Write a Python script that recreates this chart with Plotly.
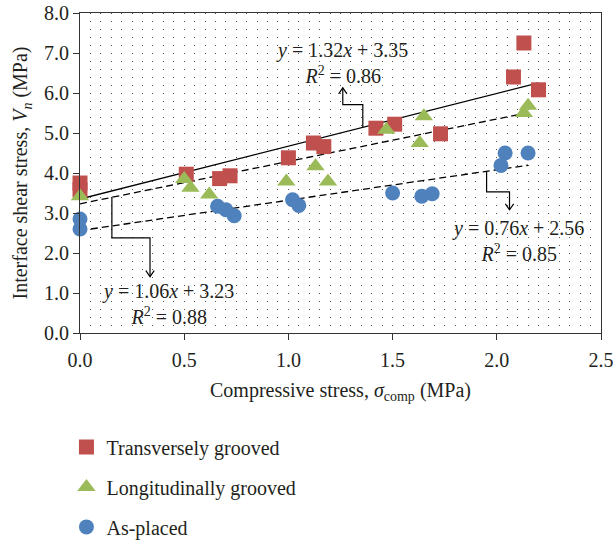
import plotly.graph_objects as go

# ---- data ----
trans_x = [0.0, 0.0, 0.51, 0.67, 0.72, 1.00, 1.12, 1.17, 1.42, 1.51, 1.73, 2.08, 2.13, 2.20]
trans_y = [3.75, 3.58, 3.97, 3.86, 3.93, 4.38, 4.75, 4.66, 5.12, 5.22, 4.98, 6.40, 7.25, 6.08]

long_x = [0.0, 0.50, 0.53, 0.62, 0.99, 1.13, 1.19, 1.47, 1.63, 1.65, 2.13, 2.15]
long_y = [3.42, 3.85, 3.63, 3.46, 3.79, 4.17, 3.79, 5.08, 4.75, 5.42, 5.50, 5.68]

asp_x = [0.0, 0.0, 0.66, 0.70, 0.74, 1.02, 1.05, 1.50, 1.64, 1.69, 2.02, 2.04, 2.15]
asp_y = [2.85, 2.60, 3.17, 3.08, 2.93, 3.33, 3.19, 3.50, 3.42, 3.48, 4.19, 4.50, 4.50]

fits = {  # name: (slope, intercept, r2, x_end)
    "trans": (1.32, 3.35, 0.86, 2.20),
    "long": (1.06, 3.23, 0.88, 2.15),
    "asp": (0.76, 2.56, 0.85, 2.15),
}

x_ticks = [0.0, 0.5, 1.0, 1.5, 2.0, 2.5]
y_ticks = [0, 1, 2, 3, 4, 5, 6, 7, 8]

RED = "#C0504D"
GREEN = "#9BBB59"
BLUE = "#4F81BD"
FONT = "Liberation Serif"
TXT = "#231F20"
FS = 20

fig = go.Figure()

# trend lines
for key, dash in [("trans", "solid"), ("long", "7px,4px"), ("asp", "7px,4px")]:
    m, b, r2, xe = fits[key]
    fig.add_trace(go.Scatter(x=[0, xe], y=[b, m * xe + b], mode="lines",
                             line=dict(color="black", width=1.3, dash=dash),
                             showlegend=False, hoverinfo="skip", cliponaxis=False))

fig.add_trace(go.Scatter(x=trans_x, y=trans_y, mode="markers", name="Transversely grooved",
                         marker=dict(symbol="square", size=15, color=RED),
                         cliponaxis=False, legendgroup="a"))
fig.add_trace(go.Scatter(x=long_x, y=long_y, mode="markers", name="Longitudinally grooved",
                         marker=dict(symbol="triangle-up", size=16, color=GREEN),
                         cliponaxis=False, legendgroup="b"))
fig.add_trace(go.Scatter(x=asp_x, y=asp_y, mode="markers", name="As-placed",
                         marker=dict(symbol="circle", size=15, color=BLUE),
                         cliponaxis=False, legendgroup="c"))

# elbow connectors + open arrowheads
def line_y(key, x):
    m, b, _, _ = fits[key]
    return m * x + b

connectors = [
    # (key, x_start, y_turn, x_turn, y_tip)
    ("trans", 1.357, 5.71, 1.261, 6.13),
    ("long", 0.153, 2.38, 0.336, 1.41),
    ("asp", 1.951, 3.53, 2.061, 3.08),
]
HW = 0.02   # arrow half width (x units)
HL = 0.15   # arrow length (y units)
for key, xs, yt, xt, ytip in connectors:
    ys = line_y(key, xs)
    fig.add_shape(type="path", xref="x", yref="y",
                  path=f"M{xs},{ys} L{xs},{yt} L{xt},{yt} L{xt},{ytip}",
                  line=dict(color="black", width=1.2))
    back = HL if ytip < yt else -HL
    fig.add_shape(type="path", xref="x", yref="y",
                  path=f"M{xt-HW},{ytip+back} L{xt},{ytip} L{xt+HW},{ytip+back}",
                  line=dict(color="black", width=1.2))

labels = [("trans", 1.256, 6.74), ("long", 0.422, 0.73), ("asp", 2.10, 2.29)]
for key, lx, ly in labels:
    m, b, r2, _ = fits[key]
    fig.add_annotation(x=lx, y=ly, xref="x", yref="y", showarrow=False,
                       text=f"<i>y</i> = {m:.2f}<i>x</i> + {b:.2f}<br><i>R</i><sup>2</sup> = {r2:.2f}",
                       font=dict(family=FONT, size=FS, color=TXT), align="center")

grid_common = dict(gridcolor="#555555", gridwidth=1, griddash="1px,7px")

fig.update_xaxes(range=[0, 2.5], tickvals=x_ticks, ticktext=[f"{v:.1f}" for v in x_ticks],
                 showline=True, linecolor="#333333", linewidth=1.2, mirror=True,
                 ticks="outside", ticklen=6, tickcolor="#333333", ticklabelstandoff=3,
                 ticklabeloverflow="allow",
                 showgrid=True, **grid_common,
                 minor=dict(dtick=0.05, showgrid=True, **grid_common),
                 zeroline=False, automargin=False,
                 tickfont=dict(family=FONT, size=FS, color=TXT),
                 title=dict(text="Compressive stress, <i>σ</i><sub>comp</sub> (MPa)",
                            font=dict(family=FONT, size=FS, color=TXT), standoff=12))
fig.update_yaxes(range=[0, 8], tickvals=y_ticks, ticktext=[f"{v:.1f}" for v in y_ticks],
                 showline=True, linecolor="#333333", linewidth=1.2, mirror=True,
                 ticks="outside", ticklen=6, tickcolor="#333333",
                 ticklabeloverflow="allow",
                 showgrid=False, zeroline=False, automargin=False,
                 tickfont=dict(family=FONT, size=FS, color=TXT),
                 title=dict(text="Interface shear stress, <i>V</i><sub><i>n</i></sub> (MPa)",
                            font=dict(family=FONT, size=FS, color=TXT), standoff=10))

fig.update_layout(width=613, height=544,
                  margin=dict(l=80, r=12, t=13, b=211, autoexpand=False),
                  paper_bgcolor="white", plot_bgcolor="white",
                  legend=dict(x=-0.026, xanchor="left", y=-0.295, yanchor="top",
                              font=dict(family=FONT, size=FS, color=TXT),
                              tracegroupgap=11, bgcolor="rgba(0,0,0,0)"),
                  showlegend=True)

fig.write_html("out.html", config={"displayModeBar": False},
               post_script="document.body.style.margin='0px';document.body.style.overflow='hidden';")
